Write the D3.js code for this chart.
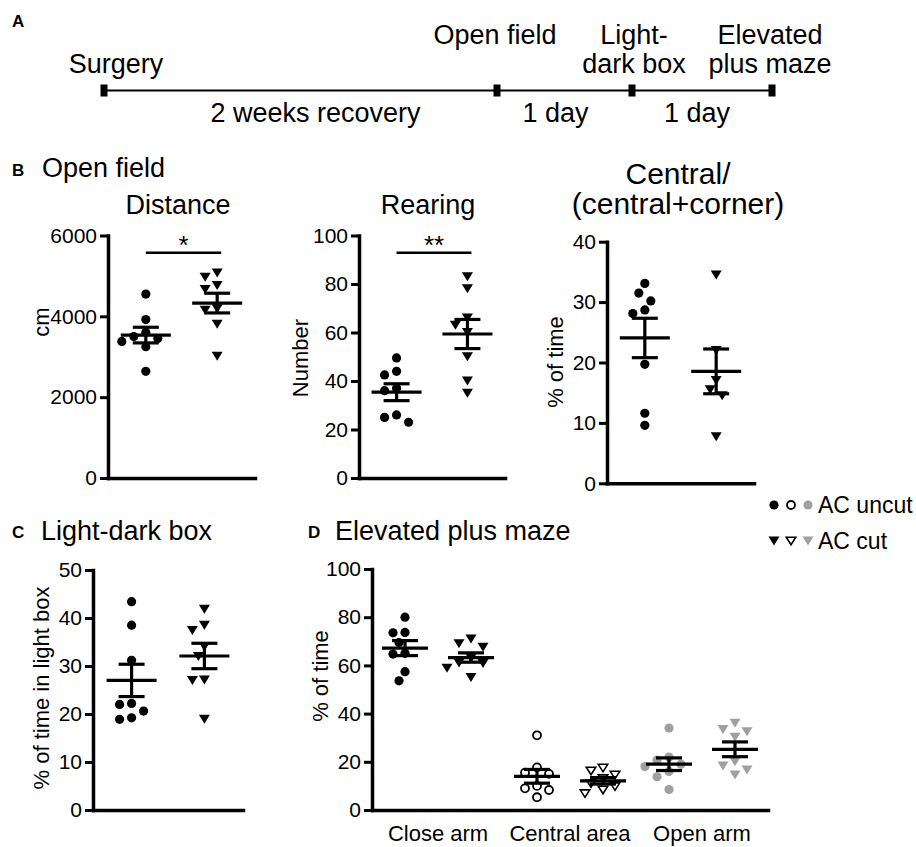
<!DOCTYPE html>
<html>
<head>
<meta charset="utf-8">
<script src="https://cdn.jsdelivr.net/npm/d3@7"></script>
<style>
  body { margin: 0; background: #fff; }
  text { font-family: "Liberation Sans", Arial, Helvetica, sans-serif; fill: #000; }
</style>
</head>
<body>
<script>
// ---------- data ----------
var groups = ['AC uncut', 'AC cut'];

// A: timeline
var timelineEvents = [['Surgery'], ['Open field'], ['Light-', 'dark box'], ['Elevated', 'plus maze']];
var timelineDays = [0, 14, 15, 16];
var timelineGaps = ['2 weeks recovery', '1 day', '1 day'];

// B: open field
var distanceUncut = [4550, 3920, 3600, 3500, 3450, 3380, 3250, 2640];
var distanceCut   = [5070, 4970, 4765, 4667, 4190, 4148, 3802, 3012];
var distanceTicks = [0, 2000, 4000, 6000];

var rearingUncut = [49.5, 44, 42.5, 37, 36, 26, 25, 23];
var rearingCut   = [83, 78, 66, 63, 60, 50, 40, 35];
var rearingTicks = [0, 20, 40, 60, 80, 100];

var centralUncut = [33.1, 31.5, 30.2, 28.7, 28.1, 19.7, 11.6, 9.6];
var centralCut   = [34.5, 22, 17, 15.5, 14.5, 7.7];
var centralTicks = [0, 10, 20, 30, 40];

// C: light-dark box
var lightUncut = [43.4, 38.5, 31.2, 22.2, 22, 20.6, 19.2, 18.9];
var lightCut   = [41.8, 38.5, 37.4, 34, 32, 27.1, 27, 18.9];
var lightTicks = [0, 10, 20, 30, 40, 50];

// D: elevated plus maze
var epmCategories = ['Close arm', 'Central area', 'Open arm'];
var closeUncut  = [80, 73.7, 73.5, 69.5, 65, 64.7, 57.4, 53.6];
var closeCut    = [71, 69, 67.5, 63, 61, 60.8, 58.8, 55];
var centerUncut = [31, 17.7, 15.5, 15, 10, 9, 8.3, 5.3];
var centerCut   = [17.4, 16.2, 14.5, 13, 11, 9.7, 8.3, 6.8];
var openUncut   = [34, 22, 20.7, 19, 18, 16, 13.8, 8.5];
var openCut     = [36, 33.4, 32.5, 30.2, 20, 18.3, 16.6, 14.5];
var epmTicks = [0, 20, 40, 60, 80, 100];

// ---------- svg ----------
var svg = d3.select("body").append("svg")
  .attr("width", 916)
  .attr("height", 847);

var GRAY = '#a0a0a0';
var styles = {
  filled:  {fill: '#000', stroke: 'none'},
  open:    {fill: '#fff', stroke: '#000'},
  gray:    {fill: GRAY, stroke: 'none'}
};

function triPath(w, h) {
  return 'M' + (-w / 2) + ',' + (-h / 2) + 'L' + (w / 2) + ',' + (-h / 2) + 'L0,' + (h / 2) + 'Z';
}

function marker(sel, shape, st) {
  if (shape === 'circle') {
    sel.append('circle')
      .attr('r', st.stroke === 'none' ? 4.6 : 4)
      .attr('fill', st.fill)
      .attr('stroke', st.stroke)
      .attr('stroke-width', 1.8);
  } else {
    sel.append('path')
      .attr('d', st.stroke === 'none' ? triPath(11, 9) : triPath(9.5, 7.5))
      .attr('fill', st.fill)
      .attr('stroke', st.stroke)
      .attr('stroke-width', 1.6)
      .attr('stroke-linejoin', 'miter');
  }
}

// spread overlapping points sideways (like a scatter dot plot)
function swarm(values, y, step, minDist) {
  var placed = [];
  values.slice().sort(function(a, b){ return b - a; }).forEach(function(v) {
    var py = y(v);
    for (var i = 0; i < 60; i++) {
      var off = (i % 2 ? -1 : 1) * Math.ceil(i / 2) * step;
      var hit = placed.some(function(p){ return Math.hypot(p.dx - off, p.y - py) < minDist; });
      if (!hit) { placed.push({v: v, y: py, dx: off}); break; }
    }
  });
  return placed;
}

function styleAxis(g) {
  g.select('.domain').attr('stroke-width', 3.5).attr('stroke-linecap', 'square');
  g.selectAll('.tick line').attr('stroke-width', 3);
  g.selectAll('.tick text').attr('font-size', 21).attr('fill', '#000');
}

// draws one group of points with mean +/- SEM
function drawGroup(g, values, cx, y, shape, st, halfMean) {
  var pts = swarm(values, y, 6, 10.5);
  pts.forEach(function(p) {
    var m = g.append('g').attr('transform', 'translate(' + (cx + p.dx) + ',' + p.y + ')');
    marker(m, shape, st);
  });
  var mean = d3.mean(values);
  var sem = d3.deviation(values) / Math.sqrt(values.length);
  var ln = g.append('g').attr('stroke', '#000').attr('stroke-width', 3.2);
  ln.append('line').attr('x1', cx - halfMean).attr('x2', cx + halfMean).attr('y1', y(mean)).attr('y2', y(mean));
  ln.append('line').attr('x1', cx).attr('x2', cx).attr('y1', y(mean + sem)).attr('y2', y(mean - sem));
  ln.append('line').attr('x1', cx - 13).attr('x2', cx + 13).attr('y1', y(mean + sem)).attr('y2', y(mean + sem));
  ln.append('line').attr('x1', cx - 13).attr('x2', cx + 13).attr('y1', y(mean - sem)).attr('y2', y(mean - sem));
}

function yTitle(text, cx, cy) {
  svg.append('text')
    .text(text)
    .attr('transform', 'translate(' + cx + ',' + cy + ') rotate(-90)')
    .attr('dy', '0.35em')
    .style('text-anchor', 'middle')
    .attr('font-size', 22);
}

function panelLetter(letter, x, y) {
  svg.append('text').text(letter)
    .attr('x', x).attr('y', y)
    .attr('font-size', 17).attr('font-weight', 'bold');
}

function bigText(text, x, y, anchor, size) {
  svg.append('text').text(text)
    .attr('x', x).attr('y', y)
    .style('text-anchor', anchor || 'start')
    .attr('font-size', size || 27);
}

// ---------- A: timeline ----------
panelLetter('A', 12, 27);

var tx = d3.scaleLinear().domain(timelineDays).range([104, 497, 632, 772]);
var lineY = 90.5;

svg.append('line')
  .attr('x1', tx(timelineDays[0])).attr('x2', tx(timelineDays[timelineDays.length - 1]))
  .attr('y1', lineY).attr('y2', lineY)
  .attr('stroke', '#000').attr('stroke-width', 2);

svg.selectAll('.tmark')
  .data(timelineDays).enter().append('rect')
  .attr('x', function(d){ return tx(d) - 3.5; })
  .attr('y', lineY - 6)
  .attr('width', 7)
  .attr('height', 12)
  .attr('fill', '#000');

var labelDx = [12, -2, 2, -2];
var labelRow = [1, 0, 0, 0];
timelineEvents.forEach(function(lines, i) {
  lines.forEach(function(s, j) {
    bigText(s, tx(timelineDays[i]) + labelDx[i], 44 + (labelRow[i] + j) * 29, 'middle');
  });
});

var gapDx = [15, -9, -5];
timelineGaps.forEach(function(s, i) {
  bigText(s, (tx(timelineDays[i]) + tx(timelineDays[i + 1])) / 2 + gapDx[i], 122, 'middle');
});

// ---------- B/C: two-group panels ----------
var panels = [
  {values: [distanceUncut, distanceCut], ticks: distanceTicks, x0: 108, x1: 255, yTop: 235.5, yBot: 478,
   title: ['Distance'], titleX: 178, titleSize: 27, yt: 'cm', ytX: 41, ytY: 322, sig: '*'},
  {values: [rearingUncut, rearingCut], ticks: rearingTicks, x0: 359, x1: 505, yTop: 235.5, yBot: 478,
   title: ['Rearing'], titleX: 428, titleSize: 27, yt: 'Number', ytX: 300, ytY: 358, sig: '**'},
  {values: [centralUncut, centralCut], ticks: centralTicks, x0: 607, x1: 754, yTop: 241.7, yBot: 483.3,
   title: ['Central/', '(central+corner)'], titleX: 678, titleSize: 30, yt: '% of time', ytX: 555, ytY: 362},
  {values: [lightUncut, lightCut], ticks: lightTicks, x0: 93, x1: 243, yTop: 570, yBot: 810,
   title: [], yt: '% of time in light box', ytX: 41, ytY: 688}
];

panelLetter('B', 12, 176);
bigText('Open field', 42, 177);
panelLetter('C', 12, 538);
bigText('Light-dark box', 41, 540);

panels.forEach(function(p) {
  var y = d3.scaleLinear().domain([0, d3.max(p.ticks)]).range([p.yBot, p.yTop]);
  var x = d3.scalePoint().domain(groups).range([p.x0, p.x1]).padding(0.53);

  svg.append('g')
    .attr('transform', 'translate(0,' + p.yBot + ')')
    .call(d3.axisBottom(x).tickSize(0).tickSizeOuter(0).tickFormat(''))
    .call(styleAxis);
  svg.append('g')
    .attr('transform', 'translate(' + p.x0 + ',0)')
    .call(d3.axisLeft(y).tickValues(p.ticks).tickFormat(d3.format('d')).tickSize(8).tickSizeOuter(0).tickPadding(3))
    .call(styleAxis);

  var g = svg.append('g');
  drawGroup(g, p.values[0], x(groups[0]), y, 'circle', styles.filled, 25);
  drawGroup(g, p.values[1], x(groups[1]), y, 'tri', styles.filled, 25);

  var n = p.title.length;
  p.title.forEach(function(s, i) {
    bigText(s, p.titleX, 214 - (n - 1 - i) * 30, 'middle', p.titleSize);
  });
  yTitle(p.yt, p.ytX, p.ytY);

  if (p.sig) {
    var bx1 = x(groups[0]), bx2 = x(groups[1]) + 4;
    svg.append('line')
      .attr('x1', bx1).attr('x2', bx2)
      .attr('y1', 252.7).attr('y2', 252.7)
      .attr('stroke', '#000').attr('stroke-width', 2.5);
    svg.append('text').text(p.sig)
      .attr('x', (bx1 + bx2) / 2).attr('y', 254)
      .style('text-anchor', 'middle')
      .attr('font-size', 26);
  }
});

// ---------- D: elevated plus maze ----------
panelLetter('D', 308, 538);
bigText('Elevated plus maze', 335, 540);

var epmValues = [[closeUncut, closeCut], [centerUncut, centerCut], [openUncut, openCut]];
var epmStyles = [styles.filled, styles.open, styles.gray];

var yD = d3.scaleLinear().domain([0, d3.max(epmTicks)]).range([810, 569]);
var xCat = d3.scaleBand().domain(epmCategories).range([372, 768]);
var xGrp = d3.scalePoint().domain(groups).range([0, xCat.bandwidth()]).padding(0.5);

svg.append('g')
  .attr('transform', 'translate(0,810)')
  .call(d3.axisBottom(xCat).tickSize(0).tickSizeOuter(0).tickPadding(15))
  .call(styleAxis)
  .call(function(g){ g.selectAll('.tick text').attr('font-size', 22); });
svg.append('g')
  .attr('transform', 'translate(372,0)')
  .call(d3.axisLeft(yD).tickValues(epmTicks).tickFormat(d3.format('d')).tickSize(8).tickSizeOuter(0).tickPadding(3))
  .call(styleAxis);

var gD = svg.append('g');
epmCategories.forEach(function(c, i) {
  var base = xCat(c);
  drawGroup(gD, epmValues[i][0], base + xGrp(groups[0]), yD, 'circle', epmStyles[i], 23);
  drawGroup(gD, epmValues[i][1], base + xGrp(groups[1]), yD, 'tri', epmStyles[i], 23);
});
yTitle('% of time', 320, 676);

// ---------- legend ----------
var legendX = [774, 791, 808];
var legendY = [505, 541];
groups.forEach(function(name, i) {
  epmStyles.forEach(function(st, j) {
    var m = svg.append('g').attr('transform', 'translate(' + legendX[j] + ',' + legendY[i] + ')');
    marker(m, i === 0 ? 'circle' : 'tri', st);
  });
  svg.append('text').text(name)
    .attr('x', 818).attr('y', legendY[i] + 8)
    .attr('font-size', 23);
});
</script>
</body>
</html>
